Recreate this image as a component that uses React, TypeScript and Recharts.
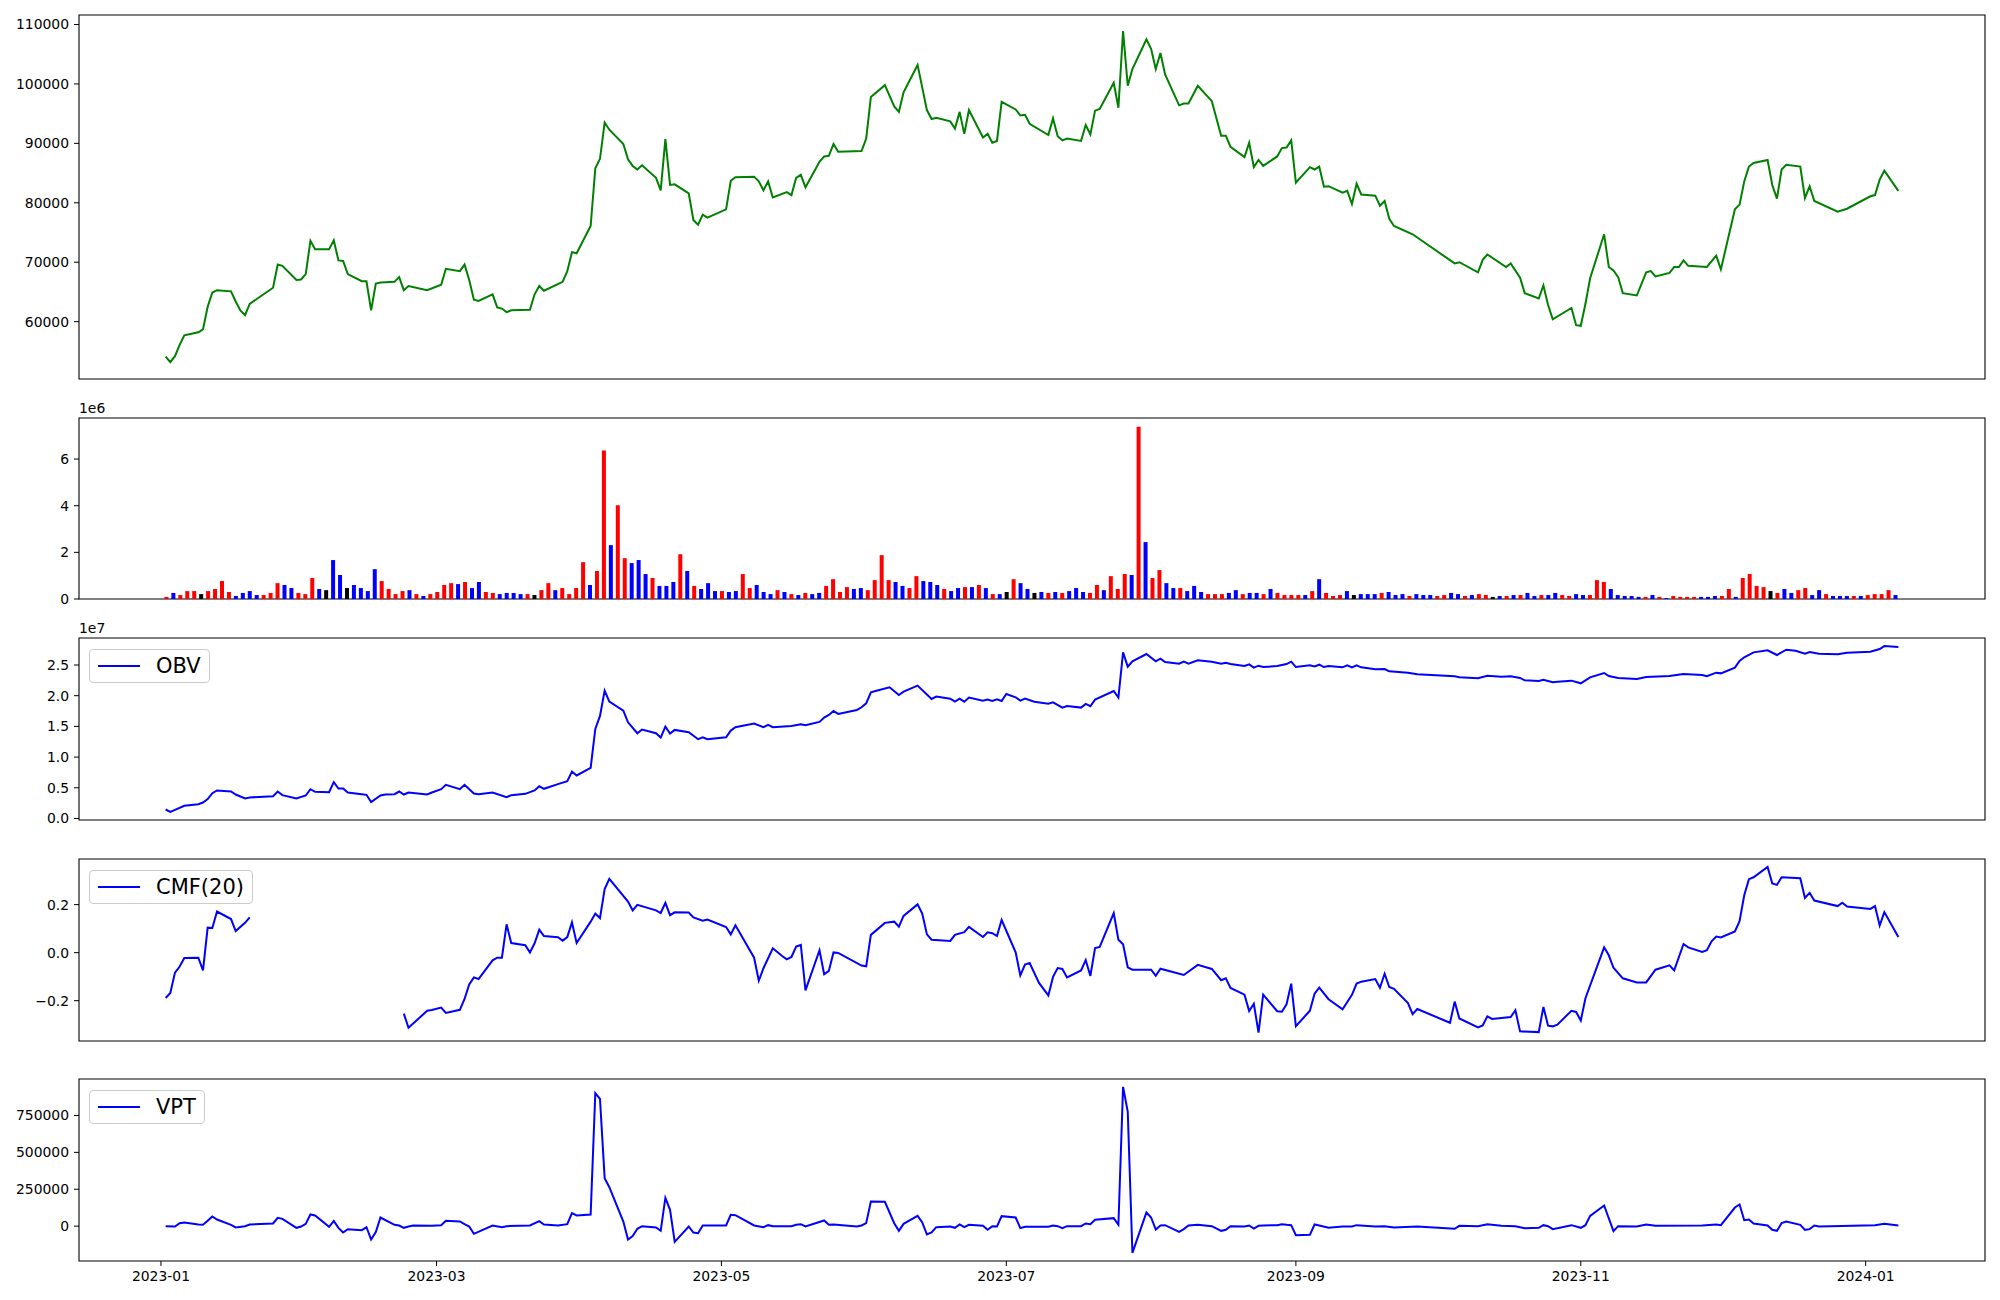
import React from "react";
import {
  LineChart,
  Line,
  BarChart,
  Bar,
  Cell,
  XAxis,
  YAxis,
  ReferenceArea,
  Legend,
  Label
} from "recharts";

// days are counted from 2023-01-01 (day 0)
const DATE_TICKS = [0, 59, 120, 181, 243, 304, 365];
const DATE_LABELS = ["2023-01", "2023-03", "2023-05", "2023-07", "2023-09", "2023-11", "2024-01"];

// closing price [day, price]
const PRICE: [number, number][] = [
  [1, 54100], [2, 53200], [3, 54200], [4, 56100], [5, 57700], [8, 58200], [9, 58700], [10, 62500], [11, 64900], [12, 65300],
  [15, 65100], [16, 63400], [17, 61900], [18, 61100], [19, 63000], [24, 65700], [25, 69600], [26, 69400], [29, 67000], [30, 67100],
  [31, 68000], [32, 73600], [33, 72200], [36, 72200], [37, 73700], [38, 70300], [39, 70200], [40, 68000], [43, 66800], [44, 66800],
  [45, 61900], [46, 66400], [47, 66600], [50, 66700], [51, 67500], [52, 65300], [53, 66000], [57, 65300], [60, 66200], [61, 68900],
  [64, 68500], [65, 69600], [66, 67000], [67, 63700], [68, 63500], [71, 64600], [72, 62400], [73, 62200], [74, 61600], [75, 61900],
  [79, 62000], [80, 64600], [81, 66000], [82, 65200], [86, 66700], [87, 68500], [88, 71700], [89, 71500], [92, 76100], [93, 85800],
  [94, 87400], [95, 93500], [96, 92300], [99, 89900], [100, 87300], [101, 86200], [102, 85600], [103, 86300], [106, 84200], [107, 82100],
  [108, 90700], [109, 83000], [110, 83100], [113, 81600], [114, 77100], [115, 76300], [116, 78000], [117, 77500], [121, 78900], [122, 83700],
  [123, 84300], [127, 84400], [128, 83600], [129, 82100], [130, 83600], [131, 80900], [134, 81800], [135, 81300], [136, 84200], [137, 84700],
  [138, 82600], [141, 86900], [142, 87800], [143, 87900], [144, 89900], [145, 88600], [150, 88700], [151, 90800], [152, 97800], [155, 99800],
  [157, 96200], [158, 95300], [159, 98600], [162, 103200], [164, 95600], [165, 94100], [166, 94300], [169, 93700], [170, 92500], [171, 95300],
  [172, 91600], [173, 95600], [176, 91000], [177, 91600], [178, 90100], [179, 90400], [180, 97000], [183, 95700], [184, 94700], [185, 94800],
  [186, 93300], [190, 91400], [191, 94200], [192, 91200], [193, 90500], [194, 90800], [197, 90400], [198, 93100], [199, 91500], [200, 95500],
  [201, 95800], [204, 100200], [205, 96000], [206, 108900], [207, 99700], [208, 102500], [211, 107500], [212, 105900], [213, 102500], [214, 105200],
  [215, 101600], [218, 96400], [219, 96700], [220, 96700], [222, 99700], [225, 97100], [227, 91300], [228, 91300], [229, 89400], [232, 87700],
  [233, 90100], [234, 86000], [235, 87200], [236, 86200], [239, 87800], [240, 89200], [241, 89300], [242, 90500], [243, 83400], [246, 86000],
  [247, 85600], [248, 86100], [249, 82700], [250, 82800], [253, 81700], [254, 82000], [255, 79800], [256, 83200], [257, 81400], [260, 81200],
  [261, 79500], [262, 80300], [263, 77300], [264, 76100], [268, 74700], [277, 69800], [278, 70000], [282, 68300], [283, 70400], [284, 71300],
  [288, 69200], [289, 69800], [291, 67400], [292, 64800], [295, 63900], [296, 66100], [297, 62800], [298, 60400], [302, 62300], [303, 59400],
  [304, 59300], [305, 63000], [306, 67300], [309, 74700], [310, 69200], [311, 68600], [312, 67500], [313, 64800], [316, 64400], [318, 68300],
  [319, 68500], [320, 67600], [323, 68200], [324, 69200], [325, 69200], [326, 70300], [327, 69400], [331, 69200], [333, 71100], [334, 68800],
  [337, 78900], [338, 79700], [339, 83600], [340, 86100], [341, 86700], [344, 87200], [345, 83000], [346, 80700], [347, 85600], [348, 86400],
  [351, 86100], [352, 80800], [353, 82800], [354, 80300], [359, 78500], [361, 79000], [366, 81100], [367, 81300], [368, 83900], [369, 85400],
  [372, 82000]
];

// volume per session, millions
const VOLUME_M = [
  0.09, 0.26, 0.17, 0.34, 0.34, 0.21, 0.34, 0.43, 0.77, 0.30,
  0.13, 0.26, 0.34, 0.17, 0.17, 0.26, 0.68, 0.60, 0.47, 0.26,
  0.21, 0.90, 0.43, 0.38, 1.67, 1.03, 0.47, 0.60, 0.47, 0.34,
  1.28, 0.77, 0.43, 0.21, 0.34, 0.38, 0.21, 0.13, 0.21, 0.30,
  0.60, 0.68, 0.64, 0.73, 0.47, 0.73, 0.30, 0.26, 0.21, 0.26,
  0.26, 0.21, 0.21, 0.17, 0.38, 0.68, 0.38, 0.47, 0.21, 0.47,
  1.58, 0.60, 1.20, 6.37, 2.31, 4.02, 1.75, 1.54, 1.67, 1.07,
  0.90, 0.56, 0.56, 0.73, 1.92, 1.20, 0.56, 0.43, 0.68, 0.34,
  0.34, 0.30, 0.34, 1.07, 0.47, 0.60, 0.30, 0.21, 0.38, 0.30,
  0.21, 0.17, 0.26, 0.21, 0.26, 0.56, 0.85, 0.30, 0.51, 0.43,
  0.47, 0.38, 0.81, 1.88, 0.81, 0.73, 0.56, 0.47, 0.98, 0.77,
  0.73, 0.60, 0.43, 0.34, 0.47, 0.51, 0.51, 0.60, 0.47, 0.21,
  0.21, 0.30, 0.85, 0.68, 0.43, 0.26, 0.30, 0.26, 0.30, 0.26,
  0.34, 0.47, 0.30, 0.26, 0.60, 0.38, 0.98, 0.43, 1.07, 1.03,
  7.39, 2.44, 0.90, 1.24, 0.68, 0.47, 0.47, 0.34, 0.56, 0.30,
  0.21, 0.21, 0.21, 0.26, 0.38, 0.21, 0.26, 0.26, 0.21, 0.43,
  0.26, 0.17, 0.17, 0.17, 0.17, 0.34, 0.85, 0.26, 0.13, 0.17,
  0.34, 0.17, 0.21, 0.21, 0.21, 0.26, 0.30, 0.17, 0.21, 0.13,
  0.21, 0.17, 0.17, 0.13, 0.17, 0.26, 0.21, 0.13, 0.17, 0.21,
  0.17, 0.09, 0.13, 0.13, 0.17, 0.17, 0.26, 0.13, 0.17, 0.17,
  0.26, 0.17, 0.13, 0.21, 0.17, 0.17, 0.81, 0.73, 0.43, 0.17,
  0.13, 0.13, 0.09, 0.09, 0.17, 0.09, 0.04, 0.13, 0.09, 0.09,
  0.09, 0.09, 0.09, 0.13, 0.13, 0.43, 0.09, 0.90, 1.07, 0.56,
  0.51, 0.34, 0.26, 0.43, 0.26, 0.38, 0.47, 0.17, 0.38, 0.21,
  0.13, 0.13, 0.13, 0.13, 0.13, 0.17, 0.21, 0.21, 0.38, 0.17
];

// r = up, b = down, k = unchanged
const VOLUME_DIR =
  "rbrrrkrrrr" + "bbbbrrrbbr" + "rrbkbbkbbb" + "brrrrbrbrr" + "rrbrbbrrbb" +
  "bbrkrrbrrr" + "rbrrbrrbbb" + "rbbbrbrbbb" + "rbbrrbbbrb" + "rbrbbrrrrb" +
  "brrrrbbrrb" + "bbrbbrbrbr" + "bkrbbkbrbr" + "bbbrrbrrrb" + "rbrrbbrbbb" +
  "rrrbbrbbrb" + "rrrrbrbrrr" + "bkbbbrbbbr" + "bbbrrbbrbr" + "rkbrbrbbrb" +
  "brrbbrrrbb" + "bbbrbrbrrr" + "rbbbrrbrrr" + "rkrbbrrbbr" + "bbbrbrrrrb";

// on-balance volume, units of 1e7
const OBV: [number, number][] = [
  [1, 0.146], [2, 0.108], [3, 0.141], [5, 0.206], [8, 0.233], [9, 0.26], [10, 0.315], [11, 0.412], [12, 0.456], [15, 0.439],
  [16, 0.39], [18, 0.325], [19, 0.342], [24, 0.363], [25, 0.439], [26, 0.38], [29, 0.325], [31, 0.374], [32, 0.477], [33, 0.434],
  [36, 0.428], [37, 0.591], [38, 0.488], [39, 0.488], [40, 0.423], [43, 0.396], [44, 0.385], [45, 0.266], [47, 0.374], [48, 0.39],
  [50, 0.396], [51, 0.439], [52, 0.39], [53, 0.423], [57, 0.39], [58, 0.423], [60, 0.477], [61, 0.548], [64, 0.477], [65, 0.548],
  [67, 0.407], [68, 0.396], [71, 0.423], [74, 0.347], [75, 0.38], [78, 0.401], [80, 0.456], [81, 0.526], [82, 0.483], [85, 0.559],
  [87, 0.607], [88, 0.765], [89, 0.7], [92, 0.824], [93, 1.459], [94, 1.67], [95, 2.082], [96, 1.903], [99, 1.757], [100, 1.567],
  [102, 1.388], [103, 1.448], [106, 1.388], [107, 1.318], [108, 1.497], [109, 1.383], [110, 1.443], [113, 1.405], [115, 1.291], [116, 1.323],
  [117, 1.291], [121, 1.323], [122, 1.432], [123, 1.486], [127, 1.546], [129, 1.486], [130, 1.524], [131, 1.486], [135, 1.508], [137, 1.535],
  [138, 1.518], [141, 1.573], [142, 1.643], [143, 1.687], [144, 1.752], [145, 1.703], [149, 1.768], [150, 1.811], [151, 1.876], [152, 2.055],
  [153, 2.077], [156, 2.137], [158, 2.012], [159, 2.066], [162, 2.164], [165, 1.947], [166, 1.985], [169, 1.952], [170, 1.903], [171, 1.952],
  [172, 1.903], [173, 1.969], [176, 1.92], [177, 1.936], [178, 1.914], [179, 1.941], [180, 1.914], [181, 2.028], [183, 1.974], [184, 1.92],
  [185, 1.952], [187, 1.903], [190, 1.871], [191, 1.893], [193, 1.806], [194, 1.833], [197, 1.806], [198, 1.866], [199, 1.828], [200, 1.936],
  [204, 2.077], [205, 1.969], [206, 2.706], [207, 2.473], [208, 2.56], [211, 2.679], [213, 2.56], [214, 2.603], [215, 2.549], [218, 2.522],
  [219, 2.554], [220, 2.522], [222, 2.576], [225, 2.554], [227, 2.522], [228, 2.538], [229, 2.516], [232, 2.484], [233, 2.511], [234, 2.457],
  [235, 2.489], [236, 2.467], [239, 2.484], [241, 2.516], [242, 2.554], [243, 2.467], [246, 2.495], [247, 2.478], [248, 2.505], [249, 2.467],
  [250, 2.484], [253, 2.462], [254, 2.495], [255, 2.462], [256, 2.495], [257, 2.462], [260, 2.43], [262, 2.435], [263, 2.397], [267, 2.375],
  [269, 2.348], [277, 2.316], [278, 2.299], [282, 2.283], [284, 2.326], [287, 2.31], [289, 2.316], [291, 2.289], [292, 2.251], [295, 2.24],
  [296, 2.261], [298, 2.218], [299, 2.229], [302, 2.245], [304, 2.202], [306, 2.299], [309, 2.37], [310, 2.321], [312, 2.289], [316, 2.272],
  [318, 2.305], [323, 2.321], [326, 2.354], [330, 2.337], [331, 2.316], [333, 2.375], [334, 2.364], [337, 2.457], [338, 2.565], [339, 2.625],
  [341, 2.706], [344, 2.739], [346, 2.663], [348, 2.749], [350, 2.733], [352, 2.684], [353, 2.711], [355, 2.684], [359, 2.674], [361, 2.701],
  [366, 2.717], [368, 2.76], [369, 2.809], [372, 2.793]
];

// Chaikin money flow (20); null = no value
const CMF: [number, number | null][] = [
  [1, -0.189], [2, -0.168], [3, -0.083], [4, -0.058], [5, -0.022], [8, -0.021], [9, -0.074], [10, 0.104], [11, 0.103], [12, 0.171],
  [15, 0.14], [16, 0.09], [18, 0.124], [19, 0.147], [24, null],
  [52, -0.254], [53, -0.313], [57, -0.242], [58, -0.239], [60, -0.229], [61, -0.251], [64, -0.238], [65, -0.193], [66, -0.132], [67, -0.103],
  [68, -0.11], [71, -0.032], [72, -0.021], [73, -0.021], [74, 0.118], [75, 0.04], [78, 0.031], [79, 0.001], [80, 0.039], [81, 0.096],
  [82, 0.069], [85, 0.064], [86, 0.05], [87, 0.065], [88, 0.126], [89, 0.04], [92, 0.129], [93, 0.163], [94, 0.144], [95, 0.265],
  [96, 0.307], [100, 0.213], [101, 0.176], [102, 0.199], [106, 0.176], [107, 0.165], [108, 0.207], [109, 0.156], [110, 0.168], [113, 0.167],
  [114, 0.147], [116, 0.133], [117, 0.138], [121, 0.107], [122, 0.076], [123, 0.114], [127, -0.021], [128, -0.117], [129, -0.065], [131, 0.018],
  [133, -0.014], [134, -0.028], [135, -0.018], [136, 0.025], [137, 0.032], [138, -0.157], [141, 0.01], [142, -0.09], [143, -0.076], [144, 0.001],
  [145, -0.001], [150, -0.054], [151, -0.057], [152, 0.074], [155, 0.124], [157, 0.129], [158, 0.108], [159, 0.153], [162, 0.201], [163, 0.163],
  [164, 0.076], [165, 0.054], [169, 0.049], [170, 0.074], [172, 0.085], [173, 0.107], [176, 0.065], [177, 0.085], [178, 0.081], [179, 0.069],
  [180, 0.136], [183, 0.001], [184, -0.095], [185, -0.05], [186, -0.043], [188, -0.126], [190, -0.178], [191, -0.101], [192, -0.064], [193, -0.068],
  [194, -0.103], [197, -0.074], [198, -0.031], [199, -0.097], [200, 0.019], [201, 0.024], [204, 0.165], [205, 0.054], [206, 0.035], [207, -0.061],
  [208, -0.071], [212, -0.071], [213, -0.096], [214, -0.067], [219, -0.093], [222, -0.051], [225, -0.068], [227, -0.115], [228, -0.107], [229, -0.147],
  [232, -0.175], [233, -0.243], [234, -0.213], [235, -0.333], [236, -0.175], [239, -0.244], [240, -0.246], [241, -0.215], [242, -0.129], [243, -0.306],
  [246, -0.242], [247, -0.171], [248, -0.146], [250, -0.194], [253, -0.236], [255, -0.176], [256, -0.129], [257, -0.121], [260, -0.11], [261, -0.146],
  [262, -0.088], [263, -0.143], [264, -0.151], [267, -0.21], [268, -0.256], [269, -0.235], [276, -0.292], [277, -0.204], [278, -0.274], [282, -0.311],
  [283, -0.303], [284, -0.265], [285, -0.276], [289, -0.268], [290, -0.24], [291, -0.328], [295, -0.331], [296, -0.226], [297, -0.304], [298, -0.307],
  [299, -0.3], [302, -0.242], [303, -0.247], [304, -0.283], [305, -0.19], [309, 0.022], [310, -0.011], [311, -0.063], [313, -0.107], [316, -0.124],
  [318, -0.124], [320, -0.071], [321, -0.065], [323, -0.053], [324, -0.074], [326, 0.036], [327, 0.022], [330, 0.003], [331, 0.01], [332, 0.047],
  [333, 0.067], [334, 0.063], [337, 0.088], [338, 0.131], [339, 0.239], [340, 0.306], [341, 0.314], [344, 0.357], [345, 0.288], [346, 0.282],
  [347, 0.314], [351, 0.31], [352, 0.228], [353, 0.249], [354, 0.217], [359, 0.194], [360, 0.208], [361, 0.192], [366, 0.182], [367, 0.194],
  [368, 0.113], [369, 0.169], [372, 0.065]
];

// volume price trend
const VPT: [number, number][] = [
  [1, 0], [3, -2300], [4, 20300], [5, 24800], [8, 11300], [9, 9000], [10, 36100], [11, 65500], [12, 45200], [15, 9000],
  [16, -9000], [18, 0], [19, 11300], [24, 18100], [25, 56500], [26, 49700], [29, -11300], [30, -2300], [31, 15800], [32, 79000],
  [33, 72300], [36, -4500], [37, 36100], [38, -11300], [39, -42900], [40, -20300], [43, -27100], [44, -6800], [45, -90300], [46, -40600],
  [47, 58700], [50, 9000], [51, 4500], [52, -11300], [53, -2300], [54, 4500], [58, 2300], [60, 6800], [61, 36100], [64, 31600],
  [65, 13500], [66, -2300], [67, -51900], [71, 4500], [73, -6800], [74, 0], [79, 4500], [81, 33900], [82, 11300], [85, 4500],
  [87, 13500], [88, 88100], [89, 72300], [92, 79000], [93, 901000], [94, 862600], [95, 325200], [96, 264200], [99, 31600], [100, -90300],
  [101, -67700], [102, -18100], [103, 0], [106, -9000], [107, -31600], [108, 191900], [109, 110600], [110, -106100], [113, -2300], [114, -42900],
  [115, -47400], [116, 4500], [121, 4500], [122, 76800], [123, 74500], [127, 4500], [129, -6800], [130, 6800], [131, 0], [135, 0],
  [136, 9000], [137, 13500], [138, -2300], [142, 38400], [143, 9000], [144, 11300], [149, -2300], [150, 4500], [151, 20300], [152, 167100],
  [155, 164800], [157, 20300], [158, -31600], [159, 15800], [162, 70000], [163, 24800], [164, -56500], [165, -42900], [166, -6800], [169, -2300],
  [170, -11300], [171, 11300], [172, -6800], [173, 9000], [176, 2300], [177, -24800], [178, 0], [179, -2300], [180, 67700], [183, 58700],
  [184, -13500], [185, -4500], [190, -4500], [191, 4500], [192, 0], [193, -13500], [194, 0], [197, 0], [198, 18100], [199, 13500],
  [200, 42900], [204, 54200], [205, 9000], [206, 943800], [207, 776800], [208, -180600], [211, 92600], [212, 58700], [213, -22600], [214, 4500],
  [215, 6800], [218, -38400], [219, -20300], [220, 4500], [222, 9000], [225, 0], [227, -31600], [228, -24800], [229, 0], [232, -2300],
  [233, 4500], [234, -15800], [235, 2300], [236, 4500], [239, 6800], [240, 13500], [241, 9000], [242, 6800], [243, -61000], [246, -58700],
  [247, 11300], [248, 4500], [250, -11300], [253, -2300], [255, -2300], [256, 6800], [260, -2300], [262, 0], [264, -9000], [269, -2300],
  [277, -18100], [278, 2300], [282, 0], [284, 13500], [287, 2300], [290, 0], [292, -13500], [295, -11300], [296, 6800], [297, 0],
  [298, -20300], [302, 6800], [304, -11300], [305, 6800], [306, 70000], [309, 140000], [311, -33900], [312, 0], [316, -2300], [318, 11300],
  [320, 2300], [330, 4500], [333, 11300], [334, 6800], [337, 126400], [338, 146800], [339, 40600], [340, 45200], [341, 18100], [344, 4500],
  [345, -24800], [346, -31600], [347, 20300], [348, 31600], [351, 9000], [352, -24800], [353, -20300], [354, 4500], [355, -2300], [367, 6800],
  [369, 15800], [372, 4500]
];

const PRICE_TICKS = [60000, 70000, 80000, 90000, 100000, 110000];
const VOLUME_TICKS = [0, 2, 4, 6];
const OBV_TICKS = [0, 0.5, 1, 1.5, 2, 2.5];
const CMF_TICKS = [-0.2, 0, 0.2];
const VPT_TICKS = [0, 250000, 500000, 750000];

const BAR_COLORS: Record<string, string> = { r: "#ff0000", b: "#0000ff", k: "#000000" };

const FONT = "'DejaVu Sans', sans-serif";
const TICK = { fill: "#000", fontSize: 13.9, fontFamily: FONT };
const W = 2000;
const MT = 25;
const MB = 14;
const RIGHT = 15;
const YW = 79;
const X_DOMAIN: [number, number] = [-17.55, 390.55];
const BAR_DOMAIN: [number, number] = [-12.66, 261.82];

const rows = (pts: [number, number | null][]) => pts.map(([day, v]) => ({ day, v }));

const frame = (x: [number, number], y: [number, number]) => (
  <ReferenceArea x1={x[0]} x2={x[1]} y1={y[0]} y2={y[1]} fill="none" stroke="#000" strokeWidth={1.1} ifOverflow="visible" />
);

const yAxis = (domain: [number, number], ticks: number[], fmt?: (v: number) => string, exp?: string) => (
  <YAxis
    type="number"
    domain={domain}
    ticks={ticks}
    allowDataOverflow
    interval={0}
    width={YW}
    tick={TICK}
    tickLine={{ stroke: "#000" }}
    axisLine={false}
    tickSize={5}
    tickMargin={5}
    tickFormatter={fmt}
  >
    {exp && (
      <Label
        content={(p: any) => (
          <text x={YW} y={(p.viewBox?.y ?? MT) - 5} fontSize={13.9} fontFamily={FONT} fill="#000">
            {exp}
          </text>
        )}
      />
    )}
  </YAxis>
);

function LegendBox({ label }: { label: string }) {
  return (
    <div
      style={{
        display: "flex",
        alignItems: "center",
        height: 34,
        boxSizing: "border-box",
        padding: "0 8px",
        border: "1px solid #cccccc",
        borderRadius: 4,
        background: "rgba(255,255,255,0.8)",
        fontFamily: FONT,
        fontSize: 21,
        color: "#000",
        whiteSpace: "nowrap"
      }}
    >
      <svg width={42} height={6}>
        <line x1={0} y1={3} x2={42} y2={3} stroke="#0000ff" strokeWidth={2} />
      </svg>
      <span style={{ marginLeft: 16 }}>{label}</span>
    </div>
  );
}

const legend = (label: string) => (
  <Legend
    layout="horizontal"
    align="center"
    verticalAlign="middle"
    content={() => <LegendBox label={label} />}
    wrapperStyle={{ left: 89, top: MT + 11, width: "auto", height: "auto" }}
  />
);

const minusFmt = (v: number) => (v < 0 ? "\u2212" + Math.abs(v).toFixed(1) : v.toFixed(1));

function IndicatorPanel({
  top, h, data, domain, ticks, fmt, exp, name, color, showDates
}: {
  top: number; h: number; data: { day: number; v: number | null }[]; domain: [number, number];
  ticks: number[]; fmt?: (v: number) => string; exp?: string; name?: string; color: string; showDates?: boolean;
}) {
  const xh = showDates ? 30 : 0;
  return (
    <div style={{ position: "absolute", left: 0, top: top - MT }}>
      <LineChart width={W} height={MT + h + xh + MB} data={data} margin={{ top: MT, right: RIGHT, bottom: MB, left: 0 }}>
        <XAxis
          type="number"
          dataKey="day"
          domain={X_DOMAIN}
          allowDataOverflow
          hide={!showDates}
          ticks={DATE_TICKS}
          interval={0}
          tickFormatter={(d: number) => DATE_LABELS[DATE_TICKS.indexOf(d)] ?? ""}
          tick={TICK}
          tickLine={{ stroke: "#000" }}
          axisLine={false}
          tickSize={5}
          tickMargin={5}
          height={30}
        />
        {yAxis(domain, ticks, fmt, exp)}
        <Line type="linear" dataKey="v" stroke={color} strokeWidth={2} dot={false} isAnimationActive={false} connectNulls={false} />
        {frame(X_DOMAIN, domain)}
        {name && legend(name)}
      </LineChart>
    </div>
  );
}

export default function App() {
  const volRows = VOLUME_M.map((v, i) => ({ i, v, c: VOLUME_DIR[i] }));
  const volDomain: [number, number] = [0, 7.76];
  return (
    <div style={{ position: "absolute", left: 0, top: 0, width: W, height: 1300, background: "#fff" }}>
      <IndicatorPanel top={15} h={364} data={rows(PRICE)} domain={[50350, 111600]} ticks={PRICE_TICKS} color="#008000" />

      <div style={{ position: "absolute", left: 0, top: 418 - MT }}>
        <BarChart width={W} height={MT + 181 + MB} data={volRows} margin={{ top: MT, right: RIGHT, bottom: MB, left: 0 }}>
          <XAxis type="number" dataKey="i" domain={BAR_DOMAIN} allowDataOverflow hide />
          {yAxis(volDomain, VOLUME_TICKS, (v) => String(v), "1e6")}
          <Bar dataKey="v" barSize={4} isAnimationActive={false}>
            {volRows.map((r) => (
              <Cell key={r.i} fill={BAR_COLORS[r.c]} />
            ))}
          </Bar>
          {frame(BAR_DOMAIN, volDomain)}
        </BarChart>
      </div>

      <IndicatorPanel top={638} h={182} data={rows(OBV)} domain={[-0.025, 2.94]} ticks={OBV_TICKS}
        fmt={(v) => v.toFixed(1)} exp="1e7" name="OBV" color="#0000ff" />
      <IndicatorPanel top={859} h={182} data={rows(CMF)} domain={[-0.368, 0.39]} ticks={CMF_TICKS}
        fmt={minusFmt} name="CMF(20)" color="#0000ff" />
      <IndicatorPanel top={1079} h={182} data={rows(VPT)} domain={[-236000, 997000]} ticks={VPT_TICKS}
        name="VPT" color="#0000ff" showDates />
    </div>
  );
}
